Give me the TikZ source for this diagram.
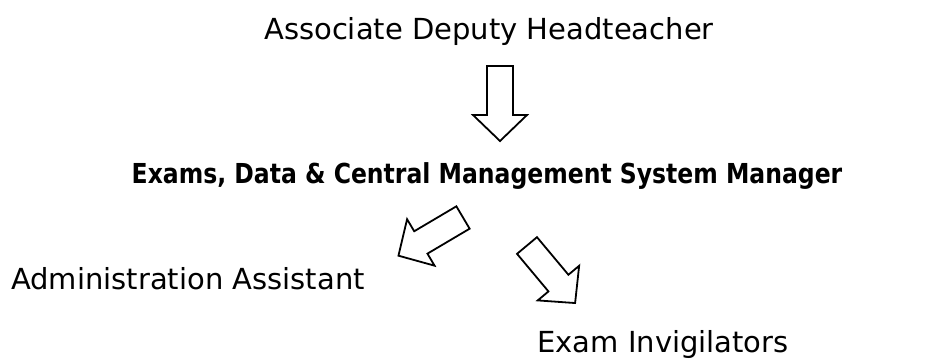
\documentclass[tikz,border=0pt]{standalone}
\usepackage{fontspec}
\setmainfont{DejaVu Sans}
\usetikzlibrary{positioning}

\tikzset{
  post/.style={font=\fontsize{29}{34}\selectfont, inner sep=0pt, anchor=base},
  head post/.style={font=\fontsize{27.5}{33}\selectfont\bfseries, inner sep=0pt,
    anchor=base, xscale=0.855, transform shape},
  blockarrow/.pic={
    \draw[line width=1.8pt, line join=miter]
      (0,-13) -- (49,-13) -- (49,-27) -- (75,0) -- (49,27) -- (49,13) -- (0,13) -- cycle;
  }
}

\begin{document}
\begin{tikzpicture}[x=1pt,y=-1pt]
\useasboundingbox (0,0) rectangle (928,360);

\node[post] (adh) at (489,39) {Associate Deputy Headteacher};
\node[head post] (mgr) at (487,183) {Exams, Data \& Central Management System Manager};
\node[post] (admin) at (188,289) {Administration Assistant};
\node[post] (invig) at (663,352) {Exam Invigilators};

% hollow arrows between the posts
\pic[rotate=-90] at (500,66) {blockarrow};
\pic[rotate=210.6] at (463,217.5) {blockarrow};
\pic[rotate=-50.1] at (527,245.5) {blockarrow};
\end{tikzpicture}
\end{document}
